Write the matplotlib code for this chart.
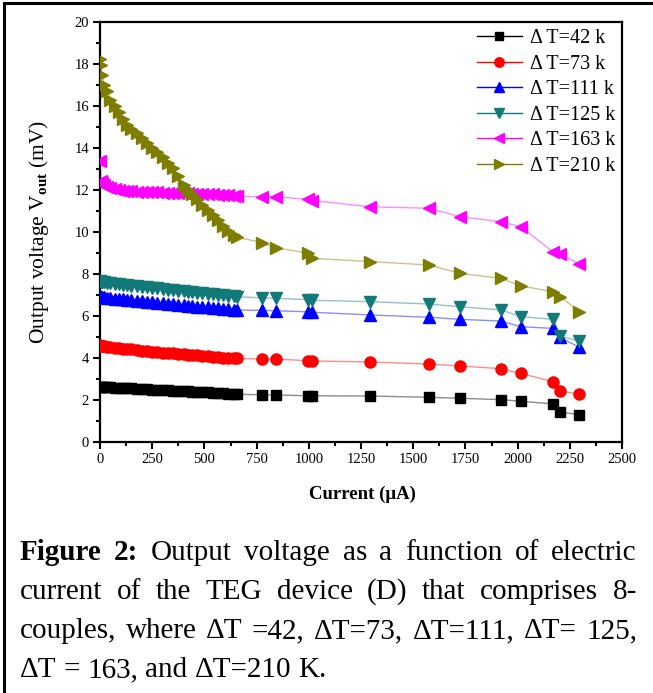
import matplotlib
matplotlib.use("Agg")
import matplotlib.pyplot as plt
from matplotlib.ticker import MultipleLocator
from matplotlib.lines import Line2D

SERIF = "Liberation Serif"
plt.rcParams["font.family"] = [SERIF, "DejaVu Serif"]
plt.rcParams["mathtext.fontset"] = "custom"
plt.rcParams["mathtext.rm"] = SERIF
plt.rcParams["mathtext.bf"] = SERIF + ":bold"

# current (uA): dense sweep region, then the sparse tail
I_dense = [0, 5, 10, 20, 35, 50, 70, 90, 110, 130, 150, 175, 200, 225, 250, 275,
           300, 325, 350, 375, 400, 420, 440, 465, 490, 515, 540, 565, 590, 615, 640, 655]
I_tail = [775, 845, 995, 1015, 1295, 1575, 1725, 1920, 2015, 2170, 2205, 2295]

# output voltage (mV)
v42_dense = [2.63, 2.63, 2.62, 2.62, 2.61, 2.60, 2.59, 2.58, 2.57, 2.56, 2.55, 2.54, 2.52, 2.51, 2.50, 2.48,
             2.47, 2.46, 2.45, 2.43, 2.42, 2.41, 2.40, 2.39, 2.37, 2.36, 2.35, 2.33, 2.32, 2.30, 2.28, 2.27]
v42_tail = [2.25, 2.24, 2.20, 2.20, 2.19, 2.13, 2.08, 2.02, 1.94, 1.81, 1.43, 1.30]

v73_dense = [4.60, 4.57, 4.56, 4.55, 4.53, 4.51, 4.49, 4.47, 4.45, 4.43, 4.41, 4.38, 4.35, 4.33, 4.30, 4.28,
             4.26, 4.24, 4.22, 4.19, 4.17, 4.16, 4.14, 4.12, 4.10, 4.08, 4.06, 4.04, 4.02, 4.01, 3.99, 3.98]
v73_tail = [3.95, 3.95, 3.87, 3.86, 3.81, 3.71, 3.62, 3.49, 3.27, 2.87, 2.43, 2.27]

v111_dense = [6.95, 6.92, 6.91, 6.89, 6.87, 6.85, 6.83, 6.81, 6.79, 6.77, 6.75, 6.72, 6.70, 6.67, 6.65, 6.62,
              6.60, 6.58, 6.55, 6.53, 6.51, 6.49, 6.47, 6.45, 6.43, 6.41, 6.38, 6.36, 6.34, 6.32, 6.29, 6.28]
v111_tail = [6.27, 6.25, 6.20, 6.18, 6.05, 5.94, 5.84, 5.76, 5.49, 5.41, 4.98, 4.51]

v125_dense = [7.68, 7.64, 7.62, 7.60, 7.58, 7.56, 7.54, 7.51, 7.49, 7.47, 7.45, 7.42, 7.39, 7.37, 7.34, 7.31,
              7.29, 7.26, 7.24, 7.21, 7.18, 7.16, 7.14, 7.11, 7.09, 7.06, 7.04, 7.01, 6.99, 6.96, 6.93, 6.92]
v125_tail = [6.86, 6.84, 6.78, 6.75, 6.68, 6.57, 6.44, 6.29, 5.97, 5.84, 5.05, 4.80]

v163_dense = [13.40, 12.45, 12.32, 12.22, 12.15, 12.10, 12.05, 12.00, 11.97, 11.95, 11.93, 11.92, 11.91, 11.90, 11.90, 11.89,
              11.88, 11.88, 11.87, 11.86, 11.85, 11.84, 11.83, 11.82, 11.81, 11.80, 11.79, 11.78, 11.77, 11.75, 11.72, 11.70]
v163_tail = [11.68, 11.68, 11.55, 11.50, 11.20, 11.13, 10.73, 10.49, 10.25, 9.05, 8.95, 8.48]

v210_dense = [18.25, 17.95, 17.50, 17.00, 16.70, 16.30, 16.00, 15.70, 15.40, 15.10, 14.90, 14.70, 14.50, 14.25, 14.00, 13.80,
              13.55, 13.30, 13.05, 12.65, 12.25, 12.00, 11.80, 11.55, 11.30, 11.05, 10.80, 10.55, 10.30, 10.05, 9.85, 9.75]
v210_tail = [9.50, 9.24, 9.00, 8.75, 8.59, 8.43, 8.03, 7.79, 7.43, 7.16, 6.92, 6.20]

labels = ["\u0394 T=42 k", "\u0394 T=73 k", "\u0394 T=111 k", "\u0394 T=125 k", "\u0394 T=163 k", "\u0394 T=210 k"]
dense = [v42_dense, v73_dense, v111_dense, v125_dense, v163_dense, v210_dense]
tails = [v42_tail, v73_tail, v111_tail, v125_tail, v163_tail, v210_tail]
colors = ["#000000", "#ff0000", "#0000ff", "#117a78", "#ff00ff", "#7d7d00"]
markers = ["s", "o", "^", "v", "<", ">"]
msizes = [7, 8, 9, 9, 9, 9]

fig = plt.figure(figsize=(6.53, 6.93), dpi=100)
ax = fig.add_axes([100 / 653, 251 / 693, 522 / 653, 420 / 693])

x = I_dense + I_tail
for vd, vt, c, m, ms in zip(dense, tails, colors, markers, msizes):
    y = vd + vt
    ax.plot(x, y, color=c, alpha=0.45, lw=1.0, zorder=2)
    ax.plot(x, y, ls="none", marker=m, ms=ms, color=c, mec=c, zorder=3)

ax.set_xlim(0, 2500)
ax.set_ylim(0, 20)
ax.xaxis.set_major_locator(MultipleLocator(250))
ax.xaxis.set_minor_locator(MultipleLocator(125))
ax.yaxis.set_major_locator(MultipleLocator(2))
ax.yaxis.set_minor_locator(MultipleLocator(1))
ax.tick_params(which="both", direction="out", width=1.5, labelsize=10.5, pad=3,
               top=False, right=False)
ax.tick_params(which="major", length=5)
ax.tick_params(which="minor", length=3)
for s in ax.spines.values():
    s.set_linewidth(1.6)

ax.set_xlabel("Current (\u03bcA)", fontsize=13.5, fontweight="bold")
ax.xaxis.set_label_coords(0.502, -0.105)
ax.set_ylabel(r"Output voltage V$_{\mathbf{out}}$ (mV)", fontsize=15.5)
ax.yaxis.set_label_coords(-0.094, 0.5)

handles = [Line2D([], [], color=c, lw=1.0, marker=m, ms=ms * 0.85, mfc=c, mec=c)
           for c, m, ms in zip(colors, markers, msizes)]
ax.legend(handles, labels, loc="upper right", frameon=False, fontsize=14.5,
          handlelength=2.2, handletextpad=0.4, labelspacing=0.32,
          borderaxespad=0.2, borderpad=0.15, bbox_to_anchor=(1.0, 1.0))

# outer frame (left and top edges)
fig.add_artist(Line2D([4 / 653, 4 / 653], [0, 1 - 3 / 693], color="black", lw=2.2,
                      transform=fig.transFigure))
fig.add_artist(Line2D([4 / 653, 1], [1 - 3 / 693, 1 - 3 / 693], color="black", lw=2.2,
                      transform=fig.transFigure))

# justified caption
fs = 21
cap_lines = [
    [("Figure", "bold"), ("2:", "bold"), ("Output", "normal"), ("voltage", "normal"), ("as", "normal"),
     ("a", "normal"), ("function", "normal"), ("of", "normal"), ("electric", "normal")],
    [(w, "normal") for w in "current of the TEG device (D) that comprises 8-".split()],
    [(w, "normal") for w in "couples, where \u0394T =42, \u0394T=73, \u0394T=111, \u0394T= 125,".split()],
    [(w, "normal") for w in "\u0394T = 163, and \u0394T=210 K.".split()],
]
baselines = [560, 599, 638, 677]
left_px, right_px = 20, 637

fig.canvas.draw()
r = fig.canvas.get_renderer()


def word_width(w, weight):
    t = fig.text(0, 0, w, fontsize=fs, fontweight=weight)
    wd = t.get_window_extent(r).width
    t.remove()
    return wd


space_w = word_width("a a", "normal") - 2 * word_width("a", "normal")
for i, (words, base) in enumerate(zip(cap_lines, baselines)):
    widths = [word_width(w, wt) for w, wt in words]
    if i < len(cap_lines) - 1:
        gap = (right_px - left_px - sum(widths)) / (len(words) - 1)
    else:
        gap = space_w
    xpos = left_px
    for (w, wt), wd in zip(words, widths):
        fig.text(xpos / 653, 1 - base / 693, w, fontsize=fs, fontweight=wt, va="baseline", ha="left")
        xpos += wd + gap

fig.savefig("out.png", dpi=100)
